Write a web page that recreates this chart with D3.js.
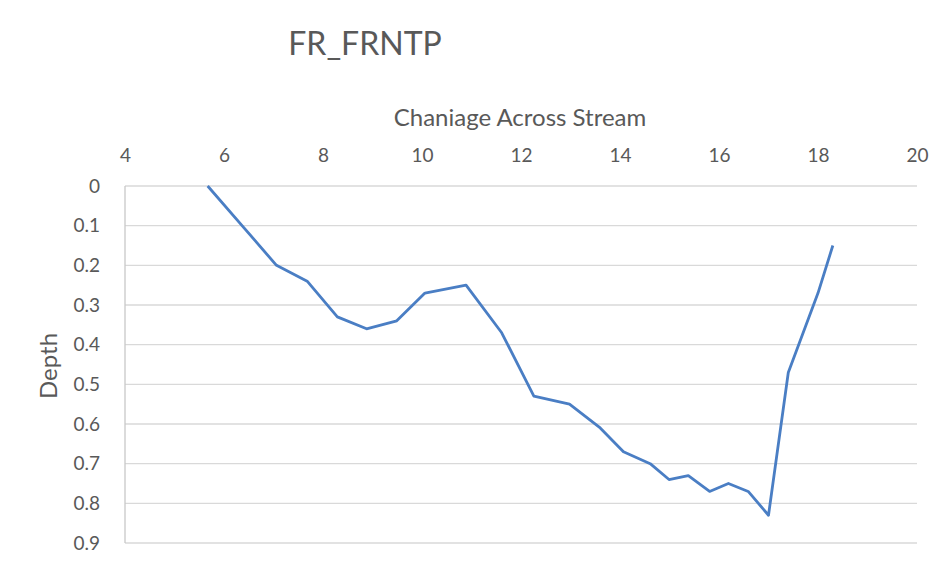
<!DOCTYPE html>
<html><head><meta charset="utf-8">
<script src="https://cdn.jsdelivr.net/npm/d3@7"></script>
<style>body{margin:0;background:#fff}svg{display:block}text{font-family:Lato,sans-serif;fill:#595959}</style>
</head><body>
<script>
const chainage = [5.67, 6.4, 7.06, 7.68, 8.29, 8.88, 9.49, 10.06, 10.89, 11.61, 12.26, 12.98, 13.6, 14.07, 14.61, 14.99, 15.38, 15.81, 16.19, 16.59, 17.0, 17.4, 18.0, 18.3];
const depth    = [0,    0.105, 0.20, 0.24, 0.33, 0.36, 0.34, 0.27, 0.25, 0.37, 0.53, 0.55, 0.61, 0.67, 0.70, 0.74, 0.73, 0.77, 0.75, 0.77, 0.83, 0.47, 0.27, 0.15];
const xTicks = [4, 6, 8, 10, 12, 14, 16, 18, 20];
const yTicks = [0, 0.1, 0.2, 0.3, 0.4, 0.5, 0.6, 0.7, 0.8, 0.9];
const title = "FR_FRNTP", xTitle = "Chaniage Across Stream", yTitle = "Depth";

const W = 946, H = 567;
const svg = d3.select("body").append("svg").attr("width", W).attr("height", H);
const x = d3.scaleLinear().domain([4, 20]).range([125, 917]);
const y = d3.scaleLinear().domain([0, 0.9]).range([186, 543]);

svg.append("g").selectAll("line").data(yTicks).join("line")
  .attr("x1", 125).attr("x2", 917).attr("y1", d => y(d)).attr("y2", d => y(d))
  .attr("stroke", "#d9d9d9").attr("stroke-width", 1.3);
svg.append("line").attr("x1", 125).attr("x2", 125).attr("y1", 186).attr("y2", 543)
  .attr("stroke", "#c8c8c8").attr("stroke-width", 1.3);

const xa = svg.append("g").attr("transform", "translate(0,186)")
  .call(d3.axisTop(x).tickValues(xTicks).tickSize(0).tickPadding(24).tickFormat(d3.format("d")));
xa.select(".domain").remove();
xa.selectAll("text").attr("font-size", 19).attr("fill", "#595959").style("font-family", "Lato,sans-serif");

const ya = svg.append("g").attr("transform", "translate(125,0)")
  .call(d3.axisLeft(y).tickValues(yTicks).tickSize(0).tickPadding(25).tickFormat(d => d === 0 ? "0" : d3.format(".1f")(d)));
ya.select(".domain").remove();
ya.selectAll("text").attr("font-size", 19).attr("fill", "#595959").style("font-family", "Lato,sans-serif");

svg.append("path").datum(chainage.map((c, i) => [c, depth[i]]))
  .attr("fill", "none").attr("stroke", "#4a7ec4").attr("stroke-width", 2.8)
  .attr("stroke-linejoin", "round")
  .attr("d", d3.line().x(d => x(d[0])).y(d => y(d[1])));

svg.append("text").attr("x", 365).attr("y", 55).attr("text-anchor", "middle")
  .attr("font-size", 32).text(title);
svg.append("text").attr("x", 520).attr("y", 126).attr("text-anchor", "middle")
  .attr("font-size", 24).text(xTitle);
svg.append("text").attr("transform", "translate(57,366) rotate(-90)").attr("text-anchor", "middle")
  .attr("font-size", 24).text(yTitle);
</script>
</body></html>
